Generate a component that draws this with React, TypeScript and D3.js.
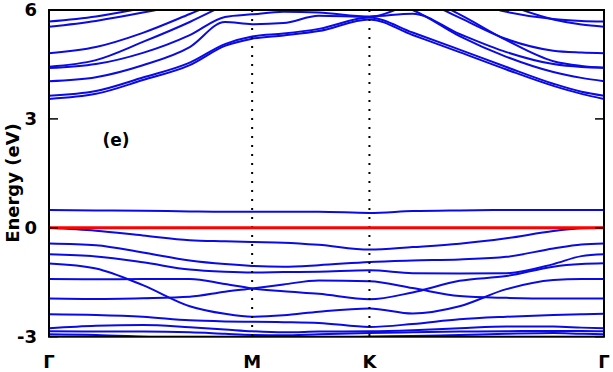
import React from 'react';
import * as d3 from 'd3';

// k-path samples (Γ-M-K-Γ, hexagonal path lengths)
const kPath = [0, 0.2, 0.4, 0.6, 0.75, 0.866, 1.0, 1.15, 1.366, 1.55, 1.75, 1.95, 2.15, 2.27, 2.366];
const kTicks = [0, 0.866, 1.366, 2.366];
const kLabels = ['Γ', 'M', 'K', 'Γ'];
const eTicks = [-3, 0, 3, 6];

// conduction bands, eV at each kPath point (values above 6 leave the frame)
const conduction = [
  [3.55, 3.69, 4.07, 4.48, 5.01, 5.21, 5.30, 5.42, 5.74, 5.31, 4.84, 4.36, 3.91, 3.69, 3.55],
  [3.64, 3.77, 4.14, 4.55, 5.06, 5.27, 5.35, 5.48, 5.79, 5.38, 4.91, 4.43, 3.97, 3.75, 3.64],
  [4.04, 4.15, 4.48, 4.98, 5.67, 5.61, 5.64, 5.84, 5.81, 6.19, 6.6, 7, 7, 7, 7],
  [4.40, 4.51, 4.82, 5.31, 5.81, 5.88, 5.95, 5.93, 5.82, 5.9, 5.34, 4.84, 4.51, 4.43, 4.41],
  [4.44, 4.62, 5.12, 5.67, 6.14, 6.5, 6.6, 6.5, 6.3, 6.0, 5.28, 4.71, 4.29, 4.13, 4.04],
  [4.81, 4.98, 5.37, 5.89, 6.3, 6.6, 6.8, 6.8, 6.8, 6.4, 5.79, 5.2, 4.88, 4.83, 4.81],
  [5.54, 5.70, 5.93, 6.2, 6.5, 6.8, 6.8, 6.8, 6.8, 6.5, 5.88, 5.17, 4.59, 4.46, 4.41],
  [5.68, 5.82, 6.05, 6.3, 6.5, 6.6, 6.6, 6.6, 6.6, 6.5, 6.3, 5.95, 5.75, 5.70, 5.68],
  [7, 7, 7, 7, 7, 7, 7, 7, 7, 7, 6.6, 6.15, 5.74, 5.6, 5.54],
];

// valence bands (and the flat level just above the Fermi line)
const valence = [
  [0.49, 0.48, 0.47, 0.45, 0.44, 0.44, 0.44, 0.44, 0.41, 0.46, 0.48, 0.49, 0.49, 0.49, 0.49],
  [0, -0.08, -0.21, -0.34, -0.37, -0.39, -0.41, -0.47, -0.6, -0.53, -0.44, -0.29, -0.09, -0.01, 0],
  [-0.43, -0.48, -0.68, -0.9, -1.0, -1.05, -1.07, -1.03, -0.94, -0.9, -0.87, -0.8, -0.57, -0.46, -0.43],
  [-0.73, -0.79, -0.95, -1.15, -1.21, -1.23, -1.22, -1.21, -1.17, -1.25, -1.26, -1.25, -1.0, -0.78, -0.73],
  [-0.98, -1.12, -1.58, -2.16, -2.37, -2.45, -2.41, -2.31, -2.22, -2.36, -2.16, -1.69, -1.44, -1.41, -1.41],
  [-1.41, -1.42, -1.41, -1.41, -1.55, -1.67, -1.75, -1.82, -1.97, -1.78, -1.46, -1.33, -1.07, -1.0, -0.98],
  [-1.95, -1.96, -1.94, -1.9, -1.76, -1.67, -1.56, -1.45, -1.47, -1.66, -1.88, -1.93, -1.95, -1.95, -1.95],
  [-2.38, -2.4, -2.45, -2.55, -2.58, -2.59, -2.6, -2.62, -2.73, -2.65, -2.52, -2.45, -2.4, -2.38, -2.37],
  [-2.77, -2.7, -2.68, -2.74, -2.8, -2.85, -2.88, -2.86, -2.85, -2.82, -2.77, -2.72, -2.72, -2.75, -2.77],
  [-2.85, -2.86, -2.86, -2.88, -2.92, -2.95, -2.96, -2.93, -2.9, -2.88, -2.86, -2.85, -2.84, -2.84, -2.85],
  [-2.93, -2.95, -3.0, -3.05, -3.1, -3.1, -3.1, -3.05, -3.0, -2.98, -2.95, -2.92, -2.9, -2.92, -2.93],
];

const fermiLevel = 0;

const App = () => {
  const left = 49, right = 604, top = 10, bottom = 336.7;
  const x = d3.scaleLinear().domain([0, 2.366]).range([left, right]);
  const y = d3.scaleLinear().domain([-3, 6]).range([bottom, top]);

  const line = d3.line<number>()
    .x((_, i) => x(kPath[i]))
    .y(d => y(d))
    .curve(d3.curveMonotoneX);

  const font = "'DejaVu Sans', sans-serif";
  const bands = [...conduction, ...valence];

  return (
    <svg width={613} height={372} style={{ position: 'absolute', left: 0, top: 0 }}
      fontFamily={font} fontWeight="bold">
      <defs>
        <clipPath id="plot">
          <rect x={left} y={top} width={right - left} height={bottom - top} />
        </clipPath>
      </defs>

      <g clipPath="url(#plot)">
        {bands.map((b, i) => (
          <path key={i} d={line(b) || ''} fill="none" stroke="#0a0ae6" strokeWidth={2} />
        ))}
      </g>

      {kTicks.slice(1, 3).map((k, i) => (
        <line key={i} x1={x(k)} x2={x(k)} y1={top} y2={bottom}
          stroke="#000" strokeWidth={2} strokeDasharray="2,7" />
      ))}

      <line x1={left} x2={right} y1={y(fermiLevel)} y2={y(fermiLevel)} stroke="#ff0000" strokeWidth={3} />

      <rect x={left} y={top} width={right - left} height={bottom - top}
        fill="none" stroke="#000" strokeWidth={2} />

      {eTicks.map(t => (
        <g key={t}>
          <line x1={left} x2={left + 9} y1={y(t)} y2={y(t)} stroke="#000" strokeWidth={1.5} />
          <line x1={right - 9} x2={right} y1={y(t)} y2={y(t)} stroke="#000" strokeWidth={1.5} />
          <text x={37} y={y(t)} dy="0.36em" textAnchor="end" fontSize={18}>{t}</text>
        </g>
      ))}

      {kTicks.map((k, i) => (
        <text key={i} x={x(k)} y={368} textAnchor="middle" fontSize={18}>{kLabels[i]}</text>
      ))}

      <text transform={`translate(19,183) rotate(-90)`} textAnchor="middle" fontSize={18}>Energy (eV)</text>
      <text x={116} y={146} textAnchor="middle" fontSize={17}>(e)</text>
    </svg>
  );
};

export default App;
